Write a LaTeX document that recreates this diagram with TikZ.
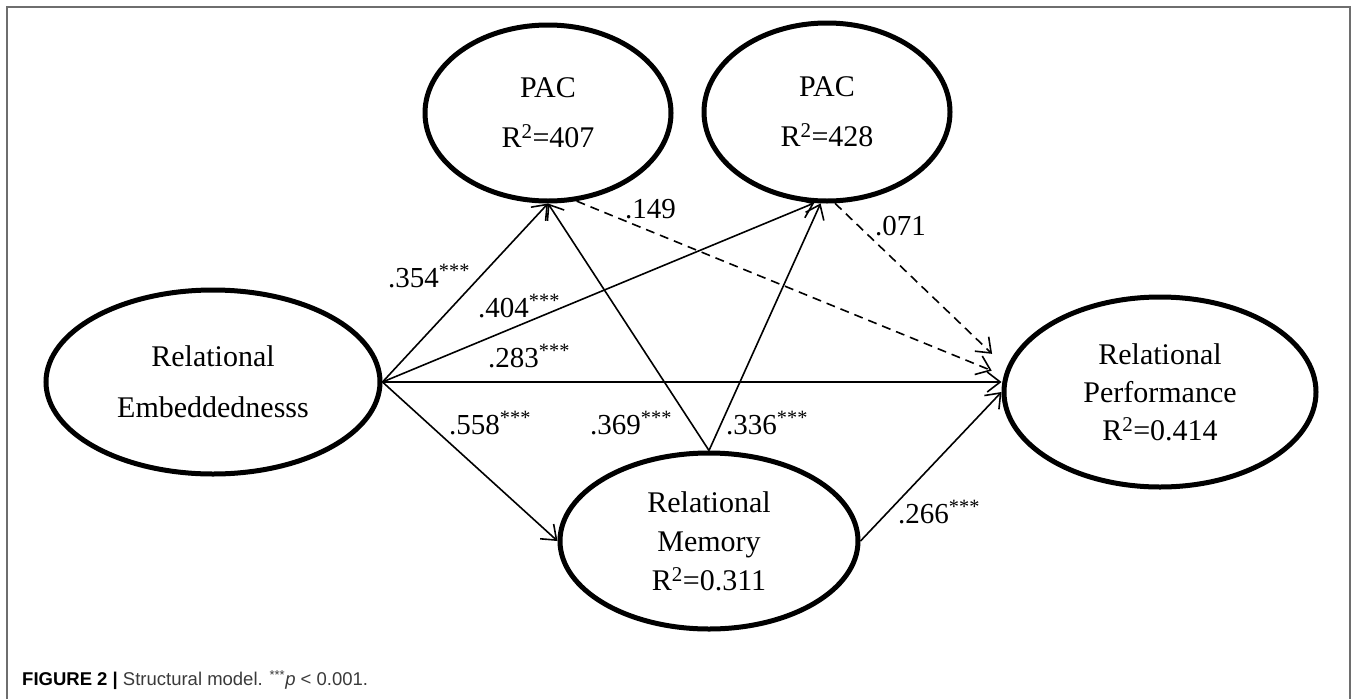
\documentclass[tikz,border=0pt]{standalone}
\usepackage{fontspec}
\setmainfont{Liberation Serif}
\setsansfont{Liberation Sans}
\usetikzlibrary{shapes.geometric,arrows.meta}
\definecolor{framegray}{HTML}{6E6E6E}
\definecolor{captext}{HTML}{3A3A3A}

\begin{document}
\begin{tikzpicture}[x=1pt,y=-1pt,
  latent/.style={draw,ellipse,line width=5pt,inner sep=0pt,align=center},
  link/.style={line width=1.6pt,-{Straight Barb[length=13pt,width=20pt]}},
  dlink/.style={link,dash pattern=on 9pt off 6pt},
  coef/.style={anchor=base west,inner sep=0pt,font=\fontsize{29}{29}\selectfont}]
\useasboundingbox (0,0) rectangle (1357,699);
\draw[framegray,line width=1.5pt] (7,699)--(7,7)--(1350,7)--(1350,699);
\node[latent,minimum width=334pt,minimum height=184pt,font=\fontsize{30}{51}\selectfont] (re) at (213,382) {Relational\\Embeddednesss};
\node[latent,minimum width=246pt,minimum height=176pt,font=\fontsize{30}{50}\selectfont] (pacA) at (548,113) {PAC\\R\textsuperscript{2}=407};
\node[latent,minimum width=246pt,minimum height=178pt,font=\fontsize{30}{50}\selectfont] (pacB) at (827,112) {PAC\\R\textsuperscript{2}=428};
\node[latent,minimum width=298pt,minimum height=176pt,font=\fontsize{30}{39}\selectfont] (rm) at (709,541) {Relational\\Memory\\R\textsuperscript{2}=0.311};
\node[latent,minimum width=312pt,minimum height=190pt,font=\fontsize{30}{38}\selectfont] (rp) at (1160,392) {Relational\\Performance\\R\textsuperscript{2}=0.414};
\draw[link] (re.east)--(pacA.south);
\draw[link] (re.east)--(pacB.262);
\draw[link] (re.east)--(re.east-|rp.west);
\draw[link] (re.east)--(rm.west);
\draw[link] (rm.north)--(pacA.south);
\draw[link] (rm.north)--(pacB.266);
\draw[link] (rm.east)--(rp.west);
\draw[dlink,shorten >=13pt] (pacA.288)--(rp.174);
\draw[dlink,shorten >=20pt] (pacB.275)--(rp.171);
\node[coef] (c354) at (388,287) {.354\textsuperscript{***}};
\node[coef] (c404) at (478,317) {.404\textsuperscript{***}};
\node[coef] (c283) at (488,367) {.283\textsuperscript{***}};
\node[coef] (c558) at (449,434) {.558\textsuperscript{***}};
\node[coef] (c369) at (590,434) {.369\textsuperscript{***}};
\node[coef] (c336) at (726,434) {.336\textsuperscript{***}};
\node[coef] (c266) at (898,523) {.266\textsuperscript{***}};
\node[coef] (c149) at (625,218) {.149};
\node[coef] (c071) at (875,235) {.071};
\node[anchor=west,inner sep=0pt,text=captext,font=\sffamily\fontsize{18.5}{20}\selectfont] (cap) at (22,680) {\textbf{\textcolor{black}{FIGURE 2 |}} Structural model. \textsuperscript{***}\textit{p} < 0.001.};
\end{tikzpicture}
\end{document}
